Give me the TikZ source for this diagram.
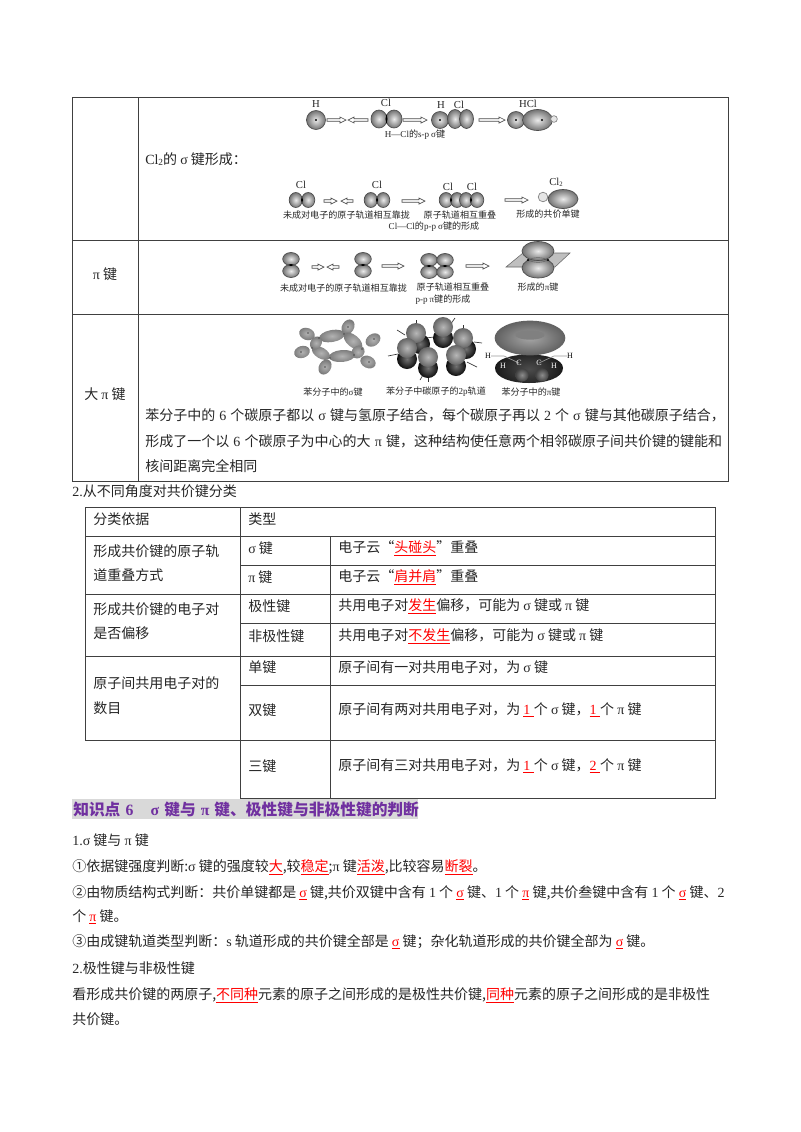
\documentclass[tikz,border=0pt]{standalone}
\usepackage{fontspec}
\setmainfont{Noto Sans CJK SC}[Scale=1]
\newfontfamily\lat{Liberation Serif}
\newcommand{\La}[1]{{\lat #1}}
\newcommand{\Rd}[1]{{\color{red}\underline{#1}}}
\newcommand{\sg}{{\lat σ}}
\newcommand{\ppi}{{\lat π}}
\definecolor{pur}{HTML}{7030A0}
\tikzset{
 x=0.75pt,y=-0.75pt,
 rule/.style={draw=black!75,line width=0.7pt},
 txt/.style={anchor=west,inner sep=0pt,font=\fontsize{10.5pt}{12pt}\selectfont,text=black!85},
 captxt/.style={inner sep=0pt,font=\fontsize{6.8pt}{8pt}\selectfont,text=black!85},
 lab/.style={inner sep=0pt,font=\lat\fontsize{8pt}{9pt}\selectfont,text=black!85},
 harrow/.style={draw=black!70,fill=white,line width=0.5pt},
 lobeshade/.style={inner color=black!8,outer color=black!55,draw=black!70,line width=0.5pt},
 bzshade/.style={inner color=black!30,outer color=black!52},
 spike/.style={draw=black!80,line width=.5pt},
}
\newcommand{\Ar}[3]{% x1 x2 y right hollow arrow
 \draw[harrow] (#1,#3-1.3) -- (#2-6,#3-1.3) -- (#2-6,#3-3) -- (#2,#3) -- (#2-6,#3+3) -- (#2-6,#3+1.3) -- (#1,#3+1.3) -- cycle;}
\newcommand{\ArL}[3]{% x1 x2 y left hollow arrow
 \draw[harrow] (#2,#3-1.3) -- (#1+6,#3-1.3) -- (#1+6,#3-3) -- (#1,#3) -- (#1+6,#3+3) -- (#1+6,#3+1.3) -- (#2,#3+1.3) -- cycle;}
\newcommand{\Lob}[4]{\shade[lobeshade] (#1,#2) ellipse [x radius=#3*0.75pt,y radius=#4*0.75pt];}
\newcommand{\Dot}[2]{\fill[black] (#1,#2) circle [radius=0.9pt];}
\newcommand{\PH}[2]{\Lob{#1-6.2}{#2}{6.6}{7.5}\Lob{#1+6.2}{#2}{6.6}{7.5}\fill[black] (#1,#2-3)--(#1+1,#2)--(#1,#2+3)--(#1-1,#2)--cycle;}
\newcommand{\PV}[2]{\Lob{#1}{#2-6}{8.3}{6.5}\Lob{#1}{#2+6}{8.3}{6.5}\fill[black] (#1-3,#2)--(#1,#2-1)--(#1+3,#2)--(#1,#2+1)--cycle;}
\begin{document}
\begin{tikzpicture}
\useasboundingbox (0,0) rectangle (800,1132);
\fill[white] (0,0) rectangle (800,1132);
% table 1
\draw[rule] (72,97) rectangle (728,481);
\draw[rule] (138,97) -- (138,481);
\draw[rule] (72,240) -- (728,240);
\draw[rule] (72,314) -- (728,314);
\node[txt] (t1) at (145,159) {\La{Cl}{\lat\fontsize{7pt}{8pt}\selectfont\raisebox{-1pt}{2}}的 \sg{} 键形成：};
\node[txt,anchor=center] (t2) at (105,274) {\ppi{} 键};
\node[txt,anchor=center] (t3) at (105,394) {大 \ppi{} 键};
\node[txt] (t4) at (145,415) {\spaceskip=.29em 苯分子中的 \La{6} 个碳原子都以 \sg{} 键与氢原子结合，每个碳原子再以 \La{2} 个 \sg{} 键与其他碳原子结合，};
\node[txt] (t5) at (145,441) {\spaceskip=.3em 形成了一个以 \La{6} 个碳原子为中心的大 \ppi{} 键，这种结构使任意两个相邻碳原子间共价键的键能和};
\node[txt] (t6) at (145,466) {核间距离完全相同};
\node[txt] (t7) at (72,491) {\La{2.}从不同角度对共价键分类};
% table 2
\draw[rule] (85,507) -- (715,507) -- (715,798) -- (240,798) -- (240,507);
\draw[rule] (85,507) -- (85,740) -- (715,740);
\draw[rule] (330,536) -- (330,798);
\draw[rule] (85,536) -- (715,536);
\draw[rule] (240,565) -- (715,565);
\draw[rule] (85,594) -- (715,594);
\draw[rule] (240,623) -- (715,623);
\draw[rule] (85,656) -- (715,656);
\draw[rule] (240,685) -- (715,685);
\node[txt] at (93,519) {分类依据};
\node[txt] at (248,519) {类型};
\node[txt] at (93,551) {形成共价键的原子轨};
\node[txt] at (93,575) {道重叠方式};
\node[txt] at (248,548) {\sg{} 键};
\node[txt] at (338,548) {电子云“\Rd{头碰头}”重叠};
\node[txt] at (248,577) {\ppi{} 键};
\node[txt] at (338,577) {电子云“\Rd{肩并肩}”重叠};
\node[txt] at (93,609) {形成共价键的电子对};
\node[txt] at (93,633) {是否偏移};
\node[txt] at (248,606) {极性键};
\node[txt] at (338,606) {共用电子对\Rd{发生}偏移，可能为 \sg{} 键或 \ppi{} 键};
\node[txt] at (248,636) {非极性键};
\node[txt] at (338,636) {共用电子对\Rd{不发生}偏移，可能为 \sg{} 键或 \ppi{} 键};
\node[txt] at (93,683) {原子间共用电子对的};
\node[txt] at (93,708) {数目};
\node[txt] at (248,667) {单键};
\node[txt] at (338,667) {原子间有一对共用电子对，为 \sg{} 键};
\node[txt] at (248,710) {双键};
\node[txt] at (338,710) {原子间有两对共用电子对，为 \Rd{\La{1}\hspace{.25em}}个 \sg{} 键，\Rd{\La{1}\hspace{.25em}}个 \ppi{} 键};
\node[txt] at (248,766) {三键};
\node[txt] at (338,766) {原子间有三对共用电子对，为 \Rd{\La{1}\hspace{.25em}}个 \sg{} 键，\Rd{\La{2}\hspace{.25em}}个 \ppi{} 键};
% heading
\fill[black!15] (72,799) rectangle (418,819);
\node[txt,text=pur,font=\bfseries\fontsize{11.8pt}{13pt}\selectfont] (hd) at (73,810) {\spaceskip=.32em 知识点 \La{6}\hspace{1.1em}\sg{} 键与 \ppi{} 键、极性键与非极性键的判断};
\node[txt] at (72,840) {\La{1.}\sg{} 键与 \ppi{} 键};
\node[txt] at (72,867) {①依据键强度判断:\sg{} 键的强度较\Rd{大},较\Rd{稳定};\ppi{} 键\Rd{活泼},比较容易\Rd{断裂}。};
\node[txt] at (72,893) {②由物质结构式判断：共价单键都是 \Rd{\sg} 键,共价双键中含有 \La{1} 个 \Rd{\sg} 键、\La{1} 个 \Rd{\ppi} 键,共价叁键中含有 \La{1} 个 \Rd{\sg} 键、\La{2}};
\node[txt] at (72,917) {个 \Rd{\ppi} 键。};
\node[txt] at (72,942) {③由成键轨道类型判断：\La{s} 轨道形成的共价键全部是 \Rd{\sg} 键；杂化轨道形成的共价键全部为 \Rd{\sg} 键。};
\node[txt] at (72,968) {\La{2.}极性键与非极性键};
\node[txt] at (72,995) {看形成共价键的两原子,\Rd{不同种}元素的原子之间形成的是极性共价键,\Rd{同种}元素的原子之间形成的是非极性};
\node[txt] at (72,1019) {共价键。};
% HCl row
\node[lab] at (316,104) {H};
\Lob{316}{120}{9.5}{9.5}\Dot{316}{120}
\Ar{327}{346}{120}
\ArL{348}{368}{120}
\node[lab] at (386,103) {Cl};
\Lob{379}{119}{8}{9}\Lob{394}{119}{8}{9}\fill (386.5,114)--(387.5,119)--(386.5,124)--(385.5,119)--cycle;
\Ar{403}{427}{120}
\node[lab] at (441,105) {H};\node[lab] at (459,105) {Cl};
\Lob{440}{120}{8.5}{8.5}\Dot{440}{120}\Lob{455}{119}{7.5}{9.5}\Lob{466.5}{119}{7}{9.5}
\Ar{479}{505}{120}
\node[lab] at (528,104) {HCl};
\Lob{516}{120}{8.5}{8.5}\Dot{516}{120}\Lob{537.5}{120}{15}{10.5}\Dot{542}{120}
\draw[black!50,fill=black!10,line width=.5pt] (554,119) circle [radius=2.5pt];
\node[captxt] at (415,135) {\La{H—Cl}的\La{s-p} \sg{}键};
% Cl2 row
\node[lab] at (301,185) {Cl};\PH{302}{200}
\Ar{324}{337}{201}
\ArL{341}{353}{201}
\node[lab] at (377,185) {Cl};\PH{377}{200}
\Ar{402}{425}{201}
\node[lab] at (448,187) {Cl};\node[lab] at (472,187) {Cl};
\Lob{446}{200}{6.8}{7.5}\Lob{457}{200}{6.5}{7.5}\Lob{466}{200}{6.5}{7.5}\Lob{477}{200}{6.8}{7.5}
\fill (451,197)--(452,200)--(451,203)--(450,200)--cycle;
\fill (471,197)--(472,200)--(471,203)--(470,200)--cycle;
\Ar{505}{528}{200}
\node[lab] at (556,182) {Cl\raisebox{-1pt}{\fontsize{5pt}{5pt}\selectfont 2}};
\draw[black!50,fill=black!10,line width=.5pt] (543,197) circle [radius=3.6pt];
\Lob{563}{199}{15}{9.5}
\node[captxt] at (346.5,215) {未成对电子的原子轨道相互靠拢};
\node[captxt] at (460,215) {原子轨道相互重叠};
\node[captxt] at (548,214) {形成的共价单键};
\node[captxt] at (434,227) {\La{Cl—Cl}的\La{p-p} \sg{}键的形成};
% pi row
\PV{291}{265}
\Ar{312}{324}{267}
\ArL{327}{339}{267}
\PV{363}{265}
\Ar{382}{404}{266}
\PV{429}{266}\PV{445}{266}
\Ar{466}{489}{266}
\fill[black!25,draw=black!60,line width=.4pt] (506,267)--(523,253)--(570,253)--(555,267)--cycle;
\Lob{538}{268}{16}{10}\Lob{538}{251}{16}{9.5}
\draw[black!60,line width=.4pt] (528,260) to[bend left=25] (548,260);
\draw[black!60,line width=.4pt] (528,260) to[bend right=25] (548,260);
\Dot{528}{260}\Dot{548}{260}
\node[captxt] at (343.5,288) {未成对电子的原子轨道相互靠拢};
\node[captxt] at (453,287) {原子轨道相互重叠};
\node[captxt] at (538,287) {形成的\ppi{}键};
\node[captxt] at (443,300) {\La{p-p}\ \ppi{}键的形成};
% benzene sigma
\foreach \cx/\cy/\ang/\rx/\ry in {307/334/-20/8/6, 348/327/60/8/6, 373/340/35/8/6, 368/362/-25/8/6, 325/367/60/8/6, 302/352/17/8/6,
 332/336/10/13/6, 353/341/-40/11/6, 358/352/40/7/6, 342/356/5/13/6, 321/353/-30/10/5.5, 316/343/55/7/5.5}
 {\shade[bzshade,rotate around={\ang:(\cx,\cy)}] (\cx,\cy) ellipse [x radius=\rx*0.75pt,y radius=\ry*0.75pt];}
\foreach \cx/\cy in {319/338,344/334,362/349,354/355,330/358,312/348,308/333,348/327,374/339,369/362,325/367,301/352}
 {\fill[black!70] (\cx,\cy) circle [radius=.6pt];}
% benzene 2p
\foreach \ax/\ay/\bx/\by in {416/320/416/326, 397/330/405/335, 443/317/443/321, 455/318/450/325, 463/325/463/330, 474/342/482/343, 388/356/398/354, 420/380/423/375, 428/375/428/382, 467/362/477/367, 426/338/434/337}
 {\draw[spike] (\ax,\ay) -- (\bx,\by);}
\foreach \cx/\cy/\dx in {416/333/4,443/327/0,463/338/3,407/348/0,428/357/0,456/355/0}{
 \shade[inner color=black!55,outer color=black!95] (\cx+\dx,\cy+11) circle [radius=7.5pt];
 \shade[inner color=black!28,outer color=black!60] (\cx,\cy) circle [radius=7.5pt];
}
% benzene pi
\shade[inner color=black!70,outer color=black!90] (495,368) .. controls (495,350) and (563,350) .. (563,368) .. controls (563,388) and (495,388) .. (495,368) -- cycle;
\shade[inner color=black!45,outer color=black!75] (522,375) circle [radius=5pt];
\shade[inner color=black!45,outer color=black!75] (542,375) circle [radius=5pt];
\shade[inner color=black!35,outer color=black!62] (530,338) ellipse [x radius=26.5pt,y radius=13pt];
\fill[black!50] (530,335) ellipse [x radius=11pt,y radius=3.5pt];
\coordinate (hl) at (491,356); \coordinate (hr) at (567,356);
\draw[black!40,line width=.5pt] (hl) -- (504,356) -- (519,363);
\draw[black!40,line width=.5pt] (hr) -- (554,356) -- (539,363);
\node[captxt,font=\lat\fontsize{6pt}{7pt}\selectfont,text=black] at (488,356) {H};
\node[captxt,font=\lat\fontsize{6pt}{7pt}\selectfont,text=white] at (503,366) {H};
\node[captxt,font=\lat\fontsize{6pt}{7pt}\selectfont,text=white] at (519,363) {C};
\node[captxt,font=\lat\fontsize{6pt}{7pt}\selectfont,text=white] at (539,363) {C};
\node[captxt,font=\lat\fontsize{6pt}{7pt}\selectfont,text=white] at (554,366) {H};
\node[captxt,font=\lat\fontsize{6pt}{7pt}\selectfont,text=black] at (570,356) {H};
\node[captxt] at (333,392) {苯分子中的\sg{}键};
\node[captxt] at (436,392) {苯分子中碳原子的\La{2p}轨道};
\node[captxt] at (531,392) {苯分子中的\ppi{}键};
\end{tikzpicture}
\end{document}
